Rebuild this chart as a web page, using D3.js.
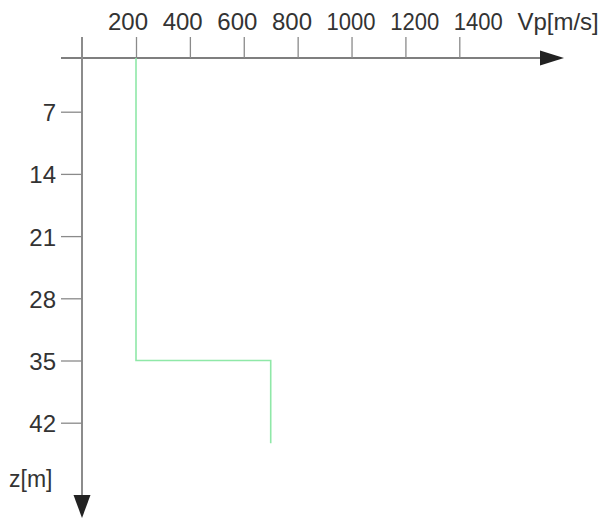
<!DOCTYPE html>
<html>
<head>
<meta charset="utf-8">
<script src="https://cdn.jsdelivr.net/npm/d3@7"></script>
<style>
  html, body { margin: 0; padding: 0; background: #fff; }
  svg { display: block; font-family: "Liberation Sans", Arial, sans-serif; }
</style>
</head>
<body>
<svg id="chart" width="606" height="520"></svg>
<script>
// Velocity ticks (m/s) along the top axis
const vpTicks = [200, 400, 600, 800, 1000, 1200, 1400];
// Depth ticks (m) down the left axis
const depthTicks = [7, 14, 21, 28, 35, 42];
// Layered P-wave velocity profile: velocity and depth of each vertex
const profileVp = [200, 200, 700, 700];
const profileDepth = [0, 35, 35, 44.3];
const xTitle = "Vp[m/s]";
const yTitle = "z[m]";

const svg = d3.select("#chart");
const W = 606, H = 520;

const axisY = 58;          // vertical position of the velocity axis
const originX = 82;        // horizontal position of the depth axis
const textColor = "#333";

const x = d3.scaleLinear().domain([200, 1400]).range([136, 459.3]);
const y = d3.scaleLinear().domain([7, 42]).range([111.7, 422.7]);

// Velocity axis line with arrowhead
svg.append("line")
  .attr("x1", 61).attr("x2", 541).attr("y1", axisY).attr("y2", axisY)
  .attr("stroke", "#555").attr("stroke-width", 1.6);
svg.append("path")
  .attr("d", `M540,${axisY - 7.5}L564,${axisY}L540,${axisY + 7.5}Z`)
  .attr("fill", "#222");

// Depth axis line with arrowhead
svg.append("line")
  .attr("x1", originX).attr("x2", originX).attr("y1", 37).attr("y2", 497)
  .attr("stroke", "#8c8c8c").attr("stroke-width", 2);
svg.append("path")
  .attr("d", `M${originX - 8.5},495L${originX},518L${originX + 8.5},495Z`)
  .attr("fill", "#222");

// Velocity ticks pointing upwards
const xAxis = svg.append("g")
  .attr("transform", `translate(0,${axisY})`)
  .call(d3.axisTop(x).tickValues(vpTicks).tickSize(21).tickFormat(""));
xAxis.select(".domain").remove();
xAxis.selectAll(".tick line").attr("stroke", "#8a8a8a").attr("stroke-width", 1.3);

// Depth ticks pointing left
const yAxis = svg.append("g")
  .attr("transform", `translate(${originX},0)`)
  .call(d3.axisLeft(y).tickValues(depthTicks).tickSize(21).tickFormat(""));
yAxis.select(".domain").remove();
yAxis.selectAll(".tick line").attr("stroke", "#8a8a8a").attr("stroke-width", 1.3);

// Top label row: tick values followed by the axis title, set as one line of text.
// Numeric labels are held to a common maximum width.
const xLabels = vpTicks.map(String).concat([xTitle]);
const labelRow = svg.append("g");
const maxNumWidth = 49;
let cursor = 108;
xLabels.forEach((t, i) => {
  const el = labelRow.append("text")
    .attr("x", cursor)
    .attr("y", 30)
    .attr("font-size", 24)
    .attr("fill", textColor)
    .text(t);
  let w = el.node().getComputedTextLength();
  if (i < vpTicks.length && w > maxNumWidth) {
    w = maxNumWidth;
    el.attr("textLength", w).attr("lengthAdjust", "spacingAndGlyphs");
  }
  cursor += w + 14.6;
});

// Depth labels
svg.append("g").selectAll("text")
  .data(depthTicks)
  .join("text")
  .attr("x", 56)
  .attr("y", d => y(d) + 9.5)
  .attr("text-anchor", "end")
  .attr("font-size", 24)
  .attr("fill", textColor)
  .text(d => d);

// Depth axis title
svg.append("text")
  .attr("x", 9)
  .attr("y", 487)
  .attr("font-size", 23)
  .attr("fill", textColor)
  .text(yTitle);

// Profile, clipped to the area below the velocity axis
svg.append("clipPath").attr("id", "plotArea")
  .append("rect").attr("x", 0).attr("y", axisY).attr("width", W).attr("height", H - axisY);

const pts = profileVp.map((v, i) => [v, profileDepth[i]]);
svg.append("path")
  .datum(pts)
  .attr("clip-path", "url(#plotArea)")
  .attr("d", d3.line().x(d => x(d[0])).y(d => y(d[1])))
  .attr("fill", "none")
  .attr("stroke", "#8fe8a8")
  .attr("stroke-width", 1.6);
</script>
</body>
</html>
